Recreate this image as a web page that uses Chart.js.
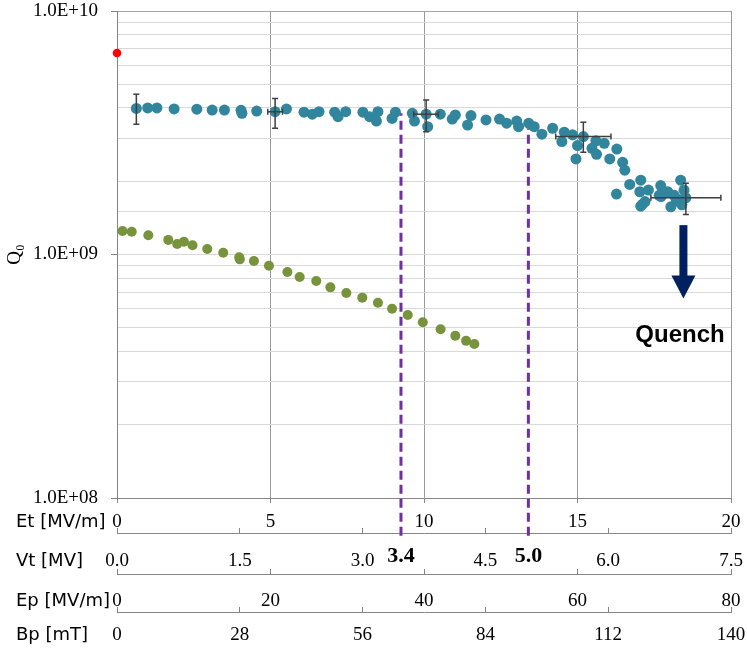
<!DOCTYPE html>
<html>
<head>
<meta charset="utf-8">
<script src="https://cdn.jsdelivr.net/npm/chart.js@4/dist/chart.umd.min.js"></script>
<style>
  html, body { margin: 0; padding: 0; background: #fff; }
</style>
</head>
<body>
<canvas id="chart" width="747" height="652"></canvas>
<script>
// --- data (Et in MV/m, Q0) ---
const blueEt = [0.63, 1.00, 1.30, 1.86, 2.60, 3.10, 3.50, 4.04, 4.07, 4.55, 5.15, 5.52, 6.09, 6.36, 6.58,
  7.09, 7.20, 7.45, 8.01, 8.23, 8.45, 8.50, 8.96, 9.07, 9.62, 9.69, 10.07, 10.12, 10.53, 10.92, 11.02,
  11.42, 11.53, 12.02, 12.46, 12.69, 13.02, 13.08, 13.41, 13.59, 13.84, 14.19, 14.49, 14.57, 14.84,
  14.95, 15.00, 15.19, 15.47, 15.60, 15.62, 15.87, 16.05, 16.27, 16.28, 16.47, 16.54, 16.70, 17.03,
  17.06, 17.06, 17.12, 17.20, 17.31, 17.66, 17.71, 17.72, 17.90, 17.94, 18.04, 18.15, 18.22, 18.33,
  18.36, 18.36, 18.40, 18.47, 18.53];
const blueQ = [3.98, 4.00, 4.00, 3.96, 3.95, 3.92, 3.92, 3.91, 3.80, 3.88, 3.86, 3.96, 3.84, 3.77, 3.86,
  3.84, 3.68, 3.86, 3.84, 3.68, 3.53, 3.86, 3.62, 3.84, 3.80, 3.53, 3.77, 3.35, 3.77, 3.60, 3.74,
  3.40, 3.72, 3.57, 3.60, 3.46, 3.53, 3.35, 3.46, 3.35, 3.12, 3.30, 2.91, 3.18, 3.10,
  2.47, 2.80, 3.05, 2.73, 2.93, 2.58, 2.86, 2.47, 1.77, 2.71, 2.39, 2.22, 1.94, 1.81,
  2.02, 1.58, 1.61, 1.65, 1.84, 1.75, 1.92, 1.73, 1.80, 1.81, 1.57, 1.75, 1.66, 1.68,
  2.02, 1.65, 1.60, 1.84, 1.71].map(v => v * 1e9);

const greenEt = [0.18, 0.48, 1.02, 1.67, 1.96, 2.18, 2.46, 2.94, 3.46, 3.98, 4.00, 4.46, 4.95, 5.55,
  5.95, 6.49, 6.95, 7.47, 7.99, 8.50, 8.96, 9.47, 9.96, 10.54, 11.02, 11.37, 11.64];
const greenQ = [1.249, 1.240, 1.200, 1.148, 1.105, 1.129, 1.091, 1.054, 1.017, 0.975, 0.955, 0.940,
  0.899, 0.847, 0.809, 0.779, 0.733, 0.695, 0.665, 0.634, 0.599, 0.564, 0.527, 0.493, 0.464,
  0.442, 0.429].map(v => v * 1e9);

const redEt = [0];
const redQ = [6.72e9];

// error bars on selected blue points
const errEt = [0.63, 5.15, 10.07, 15.19, 18.53];
const errQ = [3.98e9, 3.86e9, 3.77e9, 3.05e9, 1.71e9];
const errQHigh = [4.55e9, 4.37e9, 4.31e9, 3.49e9, 1.96e9];
const errQLow = [3.43e9, 3.30e9, 3.19e9, 2.63e9, 1.46e9];
const errEtHalf = [0, 0.24, 0.4, 0.9, 1.14];

// dashed markers (Et position) and their Vt labels
const markEt = [9.25, 13.4];
const markTop = [3.8e9, 3.3e9];
const markBottom = 7.0e7;
const markLabels = ['3.4', '5.0'];

// quench arrow
const arrowEt = 18.45;
const arrowTop = 1.32e9, arrowHead = 8.2e8, arrowTip = 6.6e8;
const quenchEt = 18.34, quenchQ = 4.67e8;

// axis definitions
const rowLabels = { x: 'Et [MV/m]', vt: 'Vt [MV]', ep: 'Ep [MV/m]', bp: 'Bp [mT]' };

const serif = "'Liberation Serif', 'Times New Roman', 'DejaVu Serif', serif";
const sans = "'DejaVu Sans', Verdana, sans-serif";
const tickFont = { family: serif, size: 19 };

function isMajor(v) {
    const e = Math.log10(v);
    return Math.abs(e - Math.round(e)) < 1e-6;
}

function xy(xs, ys) {
    return xs.map((v, i) => ({ x: v, y: ys[i] }));
}

const extras = {
    id: 'extras',
    afterDatasetsDraw(chart) {
        const { ctx, scales: { x, y } } = chart;
        ctx.save();
        ctx.strokeStyle = '#3f3f3f';
        ctx.lineWidth = 1.5;
        errEt.forEach((e, i) => {
            const px = x.getPixelForValue(e);
            const py = y.getPixelForValue(errQ[i]);
            const top = y.getPixelForValue(errQHigh[i]);
            const bot = y.getPixelForValue(errQLow[i]);
            ctx.beginPath();
            ctx.moveTo(px, top); ctx.lineTo(px, bot);
            ctx.moveTo(px - 3, top); ctx.lineTo(px + 3, top);
            ctx.moveTo(px - 3, bot); ctx.lineTo(px + 3, bot);
            if (errEtHalf[i] > 0) {
                const l = x.getPixelForValue(e - errEtHalf[i]);
                const r = x.getPixelForValue(e + errEtHalf[i]);
                ctx.moveTo(l, py); ctx.lineTo(r, py);
                ctx.moveTo(l, py - 3); ctx.lineTo(l, py + 3);
                ctx.moveTo(r, py - 3); ctx.lineTo(r, py + 3);
            }
            ctx.stroke();
        });
        ctx.restore();
    },
    afterDraw(chart) {
        const { ctx, scales } = chart;
        const { x, y } = scales;
        ctx.save();

        // row names for the stacked x axes
        ctx.fillStyle = '#000';
        ctx.font = '18px ' + sans;
        ctx.textAlign = 'left';
        ctx.textBaseline = 'middle';
        Object.keys(rowLabels).forEach(id => {
            const s = scales[id];
            const tl = s.options.grid.tickLength;
            const cy = s.top + tl + s.options.ticks.padding + 11.4;
            ctx.fillText(rowLabels[id], 16, cy);
        });

        // bold Vt values under the dashed lines
        ctx.font = 'bold 22px ' + serif;
        ctx.textAlign = 'center';
        markEt.forEach((e, i) => {
            ctx.fillText(markLabels[i], x.getPixelForValue(e), scales.vt.top + 23);
        });

        // quench arrow
        const ax = x.getPixelForValue(arrowEt);
        const y0 = y.getPixelForValue(arrowTop);
        const y1 = y.getPixelForValue(arrowHead);
        const y2 = y.getPixelForValue(arrowTip);
        ctx.fillStyle = '#002060';
        ctx.fillRect(ax - 4, y0, 8, y1 - y0 + 1);
        ctx.beginPath();
        ctx.moveTo(ax - 12, y1);
        ctx.lineTo(ax + 12, y1);
        ctx.lineTo(ax, y2);
        ctx.closePath();
        ctx.fill();

        ctx.fillStyle = '#000';
        ctx.font = "bold 24px 'Liberation Sans', Arial, sans-serif";
        ctx.fillText('Quench', x.getPixelForValue(quenchEt), y.getPixelForValue(quenchQ));
        ctx.restore();
    }
};

const datasets = [
    {
        data: xy(blueEt, blueQ),
        backgroundColor: '#31859c',
        pointRadius: 5.5,
        pointBorderWidth: 0,
        clip: false
    },
    {
        data: xy(greenEt, greenQ),
        backgroundColor: '#77933c',
        pointRadius: 5,
        pointBorderWidth: 0
    },
    {
        data: xy(redEt, redQ),
        backgroundColor: '#ff0000',
        pointRadius: 4.3,
        pointBorderWidth: 0,
        clip: false
    }
];
markEt.forEach((e, i) => {
    datasets.push({
        data: [{ x: e, y: markBottom }, { x: e, y: markTop[i] }],
        showLine: true,
        borderColor: '#7030a0',
        borderWidth: 3,
        borderDash: [9, 5],
        pointRadius: 0,
        clip: false
    });
});

// bottom axes: keep fixed heights, and let the right edge sit at 731px
function fitBottom(height) {
    return s => {
        s.height = height;
        s.paddingLeft = 0;
        s.paddingRight = 16;
    };
}

function bottomAxis(min, max, step, weight, height, pad, tickLen, fmt) {
    return {
        type: 'linear',
        position: 'bottom',
        display: true,
        min: min,
        max: max,
        weight: weight,
        border: { color: '#868686', width: 1 },
        grid: { drawOnChartArea: false, tickLength: tickLen, tickColor: '#868686' },
        ticks: {
            stepSize: step,
            padding: pad,
            autoSkip: false,
            maxRotation: 0,
            font: tickFont,
            color: '#000',
            callback: fmt
        },
        afterFit: fitBottom(height)
    };
}

new Chart(document.getElementById('chart'), {
    type: 'scatter',
    data: { datasets: datasets },
    options: {
        responsive: false,
        animation: false,
        layout: { padding: 0 },
        plugins: {
            legend: { display: false },
            tooltip: { enabled: false }
        },
        scales: {
            x: {
                type: 'linear',
                position: 'bottom',
                min: 0,
                max: 20,
                weight: 0,
                border: { color: '#868686', width: 1 },
                grid: { color: '#9a9a9a', tickLength: 5, tickColor: '#868686' },
                ticks: {
                    stepSize: 5,
                    padding: 8,
                    autoSkip: false,
                    maxRotation: 0,
                    font: tickFont,
                    color: '#000'
                },
                afterFit: fitBottom(35)
            },
            vt: bottomAxis(0, 7.5, 1.5, 1, 41, 22, -5, v => v.toFixed(1)),
            ep: bottomAxis(0, 80, 20, 2, 38, 21, -5, v => String(v)),
            bp: bottomAxis(0, 140, 28, 3, 40, 17, -5, v => String(v)),
            y: {
                type: 'logarithmic',
                min: 1e8,
                max: 1e10,
                border: { color: '#868686', width: 1 },
                grid: {
                    color: c => (c.tick && c.tick.value === 1e10) ? '#a6a6a6' : '#d9d9d9',
                    tickLength: 6,
                    tickColor: c => (c.tick && isMajor(c.tick.value)) ? '#868686' : 'rgba(0,0,0,0)'
                },
                ticks: {
                    padding: 13,
                    autoSkip: false,
                    font: tickFont,
                    color: '#000',
                    callback: v => isMajor(v) ? '1.0E+' + String(Math.round(Math.log10(v))).padStart(2, '0') : ''
                },
                title: {
                    display: true,
                    text: 'Q₀',
                    font: { family: serif, size: 19 },
                    color: '#000',
                    padding: { top: 4, bottom: 0 }
                },
                afterFit: s => {
                    s.width = 117;
                    s.paddingTop = 11;
                    s.paddingBottom = 0;
                }
            }
        }
    },
    plugins: [extras]
});
</script>
</body>
</html>
